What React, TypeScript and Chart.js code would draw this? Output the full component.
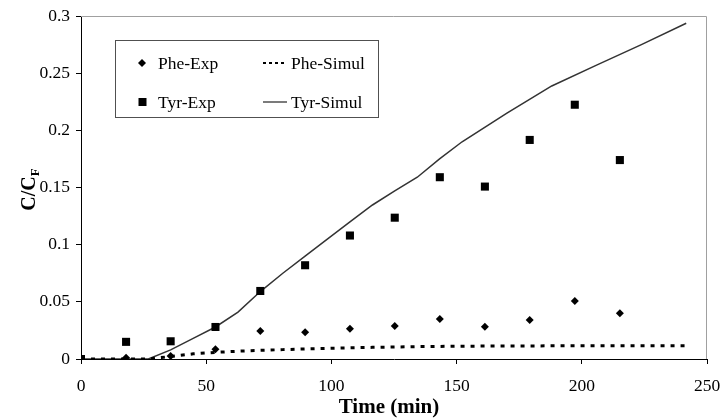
import { useEffect, useRef } from "react";
import { Chart, registerables } from "chart.js";

Chart.register(...registerables);

// Experimental sampling times (min) and measured C/CF values
const expTimes = [0, 18, 35.8, 53.7, 71.6, 89.5, 107.4, 125.3, 143.3, 161.3, 179.2, 197.2, 215.2];
const pheExp = [0, 0.0012, 0.0026, 0.0085, 0.0245, 0.0233, 0.0265, 0.0289, 0.035, 0.0283, 0.0341, 0.0507, 0.04];
const tyrExp = [0, 0.015, 0.0155, 0.028, 0.0595, 0.082, 0.108, 0.1236, 0.159, 0.1508, 0.1916, 0.2224, 0.174];

// Simulated breakthrough curves
const simTimes = [0, 17.9, 26.9, 35.8, 44.8, 53.7, 62.7, 71.6, 80.6, 89.5, 98.5, 107.4, 116.4, 125.3, 134.3, 143.2, 152.2, 170.1, 188, 205.9, 223.8, 241.7];
const pheSimul = [0, 0, 0, 0.0022, 0.0045, 0.0058, 0.0068, 0.0076, 0.0082, 0.0088, 0.0093, 0.0098, 0.0102, 0.0105, 0.0108, 0.011, 0.0112, 0.0114, 0.0115, 0.0115, 0.0116, 0.0116];
const tyrSimul = [0, 0, 0, 0.008, 0.018, 0.028, 0.041, 0.059, 0.075, 0.09, 0.105, 0.12, 0.1347, 0.147, 0.159, 0.175, 0.19, 0.215, 0.2388, 0.257, 0.275, 0.2937];

const xTicks = [0, 50, 100, 150, 200, 250];
const yTicks = [0, 0.05, 0.1, 0.15, 0.2, 0.25, 0.3];

const seriesLabels = ["Phe-Exp", "Tyr-Exp", "Phe-Simul", "Tyr-Simul"];
const xTitle = "Time (min)";
const yTitleMain = "C/C";
const yTitleSub = "F";

const FONT = "'Liberation Serif', 'Times New Roman', serif";

const pairs = (xs: number[], ys: number[]) => xs.map((x, i) => ({ x, y: ys[i] }));

// Gray frame on the top and right of the plot area
const framePlugin = {
  id: "frame",
  beforeDatasetsDraw(chart: any) {
    const { ctx, chartArea: a } = chart;
    ctx.save();
    ctx.strokeStyle = "#a0a0a0";
    ctx.lineWidth = 1;
    ctx.beginPath();
    ctx.moveTo(a.left, a.top + 0.5);
    ctx.lineTo(a.right - 0.5, a.top + 0.5);
    ctx.lineTo(a.right - 0.5, a.bottom);
    ctx.stroke();
    ctx.restore();
  },
};

// Axis titles (y title carries a subscript)
const titlesPlugin = {
  id: "axisTitles",
  afterDraw(chart: any) {
    const { ctx, chartArea: a } = chart;
    ctx.save();
    ctx.fillStyle = "#000";
    ctx.font = `bold 21px ${FONT}`;
    ctx.textAlign = "center";
    ctx.textBaseline = "middle";
    ctx.fillText(xTitle, (a.left + a.right) / 2 - 5, 408);

    const mainFont = `bold 20px ${FONT}`;
    const subFont = `bold 13px ${FONT}`;
    ctx.font = mainFont;
    const wMain = ctx.measureText(yTitleMain).width;
    ctx.font = subFont;
    const wSub = ctx.measureText(yTitleSub).width;
    const total = wMain + wSub;
    ctx.translate(28, (a.top + a.bottom) / 2 + 2);
    ctx.rotate(-Math.PI / 2);
    ctx.textAlign = "left";
    ctx.textBaseline = "alphabetic";
    ctx.font = mainFont;
    ctx.fillText(yTitleMain, -total / 2, 7);
    ctx.font = subFont;
    ctx.fillText(yTitleSub, -total / 2 + wMain, 11);
    ctx.restore();
  },
};

// Boxed two-column legend inside the plot area
const legendPlugin = {
  id: "boxLegend",
  afterDraw(chart: any) {
    const { ctx } = chart;
    const ds = chart.data.datasets;
    ctx.save();
    ctx.strokeStyle = "#505050";
    ctx.lineWidth = 1;
    ctx.strokeRect(115.5, 40.5, 263, 77);

    const rows = [63, 102];
    ctx.font = `17.5px ${FONT}`;
    ctx.textBaseline = "middle";
    ctx.textAlign = "left";
    ctx.fillStyle = "#000";

    // marker entries
    [0, 1].forEach((i) => {
      const d = ds[i];
      const y = rows[i];
      ctx.save();
      ctx.fillStyle = d.pointBackgroundColor;
      ctx.beginPath();
      if (d.pointStyle === "rectRot") {
        const r = 4;
        ctx.moveTo(142, y - r);
        ctx.lineTo(142 + r, y);
        ctx.lineTo(142, y + r);
        ctx.lineTo(142 - r, y);
        ctx.closePath();
      } else {
        ctx.rect(138.5, y - 4, 8, 8);
      }
      ctx.fill();
      ctx.restore();
      ctx.fillText(d.label, 158, y + 1);
    });

    // line entries
    [2, 3].forEach((k, j) => {
      const d = ds[k];
      const y = rows[j];
      ctx.save();
      ctx.strokeStyle = d.borderColor;
      ctx.lineWidth = j === 0 ? 2 : 1.3;
      ctx.setLineDash(j === 0 ? [3, 3] : []);
      ctx.beginPath();
      ctx.moveTo(263, y);
      ctx.lineTo(287, y);
      ctx.stroke();
      ctx.restore();
      ctx.fillText(d.label, 291, y + 1);
    });
    ctx.restore();
  },
};

export default function App() {
  const ref = useRef<HTMLCanvasElement | null>(null);

  useEffect(() => {
    if (!ref.current) return;
    const chart = new Chart(ref.current, {
      type: "scatter",
      data: {
        datasets: [
          {
            label: seriesLabels[0],
            data: pairs(expTimes, pheExp),
            showLine: false,
            pointStyle: "rectRot",
            pointRadius: 4,
            pointBackgroundColor: "#000",
            pointBorderWidth: 0,
            borderColor: "#000",
            order: 0,
          },
          {
            label: seriesLabels[1],
            data: pairs(expTimes, tyrExp),
            showLine: false,
            pointStyle: "rect",
            pointRadius: 5.7,
            pointBackgroundColor: "#000",
            pointBorderWidth: 0,
            borderColor: "#000",
            order: 0,
          },
          {
            label: seriesLabels[2],
            data: pairs(simTimes, pheSimul),
            showLine: true,
            borderColor: "#000",
            borderWidth: 3,
            borderDash: [4, 6],
            pointRadius: 0,
            tension: 0,
            order: 1,
          },
          {
            label: seriesLabels[3],
            data: pairs(simTimes, tyrSimul),
            showLine: true,
            borderColor: "#333",
            borderWidth: 1.5,
            pointRadius: 0,
            tension: 0,
            order: 1,
          },
        ],
      } as any,
      options: {
        responsive: false,
        animation: false,
        events: [],
        layout: { padding: { top: 16, right: 15, left: 0, bottom: 0 } },
        plugins: {
          legend: { display: false },
          tooltip: { enabled: false },
          title: { display: false },
        },
        scales: {
          x: {
            type: "linear",
            min: xTicks[0],
            max: xTicks[xTicks.length - 1],
            afterBuildTicks: (s: any) => {
              s.ticks = xTicks.map((v) => ({ value: v }));
            },
            afterFit: (s: any) => {
              s.height = 60;
              s.paddingLeft = 0;
              s.paddingRight = 0;
            },
            ticks: {
              color: "#000",
              font: { family: FONT, size: 17.5 },
              padding: 12,
              maxRotation: 0,
              callback: (v: any) => String(v),
            },
            grid: {
              drawOnChartArea: false,
              drawTicks: true,
              tickLength: 5,
              tickColor: "#000",
            },
            border: { color: "#000", width: 1 },
          },
          y: {
            type: "linear",
            min: yTicks[0],
            max: yTicks[yTicks.length - 1],
            afterBuildTicks: (s: any) => {
              s.ticks = yTicks.map((v) => ({ value: v }));
            },
            afterFit: (s: any) => {
              s.width = 81;
              s.paddingTop = 0;
              s.paddingBottom = 0;
            },
            ticks: {
              color: "#000",
              font: { family: FONT, size: 17.5 },
              padding: 6,
              callback: (v: any) => String(Number(Number(v).toFixed(2))),
            },
            grid: {
              drawOnChartArea: false,
              drawTicks: true,
              tickLength: 5,
              tickColor: "#000",
            },
            border: { color: "#000", width: 1 },
          },
        },
      } as any,
      plugins: [framePlugin, titlesPlugin, legendPlugin],
    });
    return () => chart.destroy();
  }, []);

  return (
    <div style={{ position: "fixed", left: 0, top: 0, width: 722, height: 419, background: "#fff" }}>
      <canvas ref={ref} width={722} height={419} style={{ display: "block" }} />
    </div>
  );
}
